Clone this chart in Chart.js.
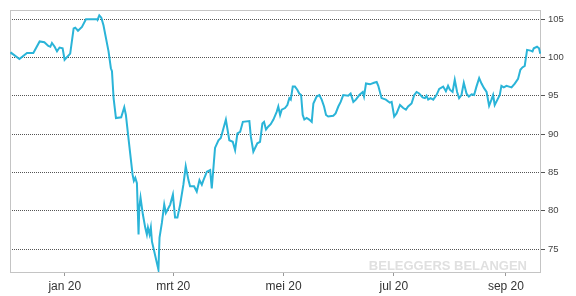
<!DOCTYPE html>
<html>
<head>
<meta charset="utf-8">
<script src="https://cdn.jsdelivr.net/npm/chart.js@4"></script>
<style>
  body { margin: 0; background: #fff; }
  #wrap { width: 576px; height: 296px; }
</style>
</head>
<body>
<div id="wrap"><canvas id="line_chart"></canvas></div>
<script>
// days counted from 1 jan 2020
const days = [
  -30.1, -29.6, -25.1, -20.9, -17.4, -13.9, -11.3, -9.1, -8.0, -7.1, -5.6, -4.3, -2.9, -1.2, -0.1,
  3.0, 4.9, 5.8, 7.3, 9.5, 11.7, 17.8, 18.1, 19.1, 20.2, 21.4, 24.2, 25.5, 26.1, 27.0, 28.3,
  31.2, 32.9, 33.8, 35.2, 37.5, 38.2, 39.0, 39.9, 40.8, 41.2, 41.9, 43.2, 44.5, 45.4, 46.0,
  46.9, 47.6, 48.2, 51.8, 52.4, 53.7, 55.0, 55.9, 58.3, 59.8, 61.0, 62.3, 63.8, 65.6, 66.9,
  68.4, 69.3, 71.5, 73.0, 74.5, 75.8, 76.7, 78.6, 80.4, 81.3, 83.1, 85.0, 86.3, 89.1, 91.0,
  92.9, 94.2, 95.5, 97.0, 98.5, 102.1, 102.9, 104.3, 106.5, 108.0, 109.3, 110.2, 111.3, 112.6,
  113.9, 115.4, 117.2, 118.1, 119.1, 120.0, 121.8, 123.1, 124.2, 125.0, 126.1, 127.3, 128.6,
  129.7, 130.7, 131.6, 132.5, 133.8, 135.2, 136.6, 137.5, 139.3, 140.8, 142.1, 143.4, 144.5,
  145.7, 148.5, 149.8, 151.3, 152.6, 154.0, 156.8, 158.1, 159.6, 161.0, 162.9, 164.8, 165.5,
  166.6, 168.8, 171.0, 172.5, 173.4, 175.2, 177.6, 179.8, 180.8, 182.2, 183.5, 185.4, 187.2,
  188.7, 189.9, 191.8, 193.3, 194.6, 196.0, 197.9, 199.2, 200.1, 201.0, 202.3, 203.8, 205.6,
  207.1, 209.3, 210.8, 212.0, 213.0, 214.5, 215.7, 217.0, 218.1, 219.4, 220.7, 222.2, 223.5,
  225.0, 226.4, 227.7, 229.2, 230.5, 231.9, 233.3, 234.7, 236.0, 236.9, 237.8, 239.1, 240.6,
  241.5, 242.8, 244.3, 245.7, 247.1, 248.9, 250.7, 252.0, 253.1, 254.4, 255.7, 257.6, 258.7,
  259.4, 261.2, 262.3, 263.0
]
const values = [
  100.5, 100.6, 99.8, 100.6, 100.6, 102.1, 102.0, 101.5, 101.4, 101.9, 101.4, 100.8, 101.3, 101.2, 99.7,
  100.5, 103.8, 103.9, 103.5, 104.0, 105.0, 105.0, 104.9, 105.5, 105.2, 104.2, 100.8, 98.6, 98.2, 94.7, 92.1,
  92.2, 93.5, 92.5, 89.5, 84.7, 83.9, 84.3, 83.6, 76.9, 80.4, 81.7, 79.5, 77.8, 76.9, 77.8,
  76.9, 77.8, 76.0, 72.3, 76.5, 78.4, 80.8, 79.7, 80.8, 82.1, 79.1, 79.1, 80.8, 83.4, 85.8,
  84.0, 83.2, 83.2, 82.5, 84.0, 83.4, 84.0, 85.1, 85.3, 82.9, 88.2, 89.2, 89.5, 91.9, 89.2,
  89.0, 87.9, 90.1, 90.3, 91.6, 91.7, 89.7, 87.7, 88.8, 89.0, 91.4, 91.6, 90.6, 91.0,
  91.3, 91.9, 92.9, 93.6, 92.5, 93.2, 93.4, 93.8, 94.7, 94.5, 96.2, 96.2, 95.8,
  95.3, 95.1, 92.5, 91.9, 92.1, 91.9, 91.6, 94.0, 94.9, 95.1, 94.5, 93.6, 92.5,
  92.3, 92.4, 92.7, 93.6, 94.2, 95.1, 95.0, 95.3, 94.2, 94.5, 95.1, 95.5, 94.9,
  96.6, 96.5, 96.7, 96.8, 96.3, 94.7, 94.5, 94.1, 94.2, 92.3, 92.7, 93.8, 93.4,
  93.2, 93.6, 94.0, 95.1, 95.5, 95.3, 94.8, 94.7, 95.0, 94.5, 94.7, 94.5, 95.1,
  95.9, 96.2, 95.6, 96.3, 95.8, 95.5, 97.1, 95.5, 94.7, 95.1, 96.7, 95.3, 94.9,
  95.2, 95.1, 96.2, 97.3, 96.6, 96.0, 95.5, 93.7, 94.5, 95.1, 93.8, 94.4, 95.1,
  96.3, 96.1, 96.3, 96.2, 96.1, 96.6, 97.2, 98.4, 98.7, 98.9, 101.0, 100.9, 100.8,
  101.2, 101.4, 101.2, 100.5
]
const monthDays = [0, 60, 121, 182, 244]
const monthLabels = ['jan 20', 'mrt 20', 'mei 20', 'jul 20', 'sep 20']
const yTicks = [75, 80, 85, 90, 95, 100, 105]

// white background, grey frame round the plot and the watermark
const frame = {
    id: 'frame',
    beforeDraw(chart) {
        const ctx = chart.ctx
        ctx.save()
        ctx.fillStyle = '#fff'
        ctx.fillRect(0, 0, chart.width, chart.height)
        ctx.restore()
    },
    beforeDatasetsDraw(chart) {
        const {ctx, chartArea: a} = chart
        ctx.save()
        ctx.fillStyle = '#e0e0e0'
        ctx.font = 'bold 13px "Liberation Sans", Arial, sans-serif'
        ctx.textAlign = 'right'
        ctx.textBaseline = 'alphabetic'
        ctx.fillText('BELEGGERS BELANGEN', a.right - 14, a.bottom - 2)
        ctx.strokeStyle = '#c4c4c4'
        ctx.lineWidth = 1
        ctx.strokeRect(a.left + 0.5, a.top + 0.5, a.right - a.left - 1, a.bottom - a.top)
        ctx.restore()
    }
}

new Chart(document.querySelector('#line_chart'), {
    type: 'line',
    data: {
        datasets: [{
            data: days.map((d, i) => ({x: d, y: values[i]})),
            borderColor: '#2ab4d8',
            borderWidth: 2,
            pointRadius: 0,
            tension: 0
        }]
    },
    options: {
        responsive: true,
        maintainAspectRatio: false,
        animation: false,
        layout: {padding: {left: 10, top: 10}},
        plugins: {
            legend: false,
            tooltip: {enabled: false}
        },
        scales: {
            x: {
                type: 'linear',
                min: -30.3,
                max: 263.4,
                afterBuildTicks: s => { s.ticks = monthDays.map(v => ({value: v})) },
                afterFit: s => { s.height = 24 },
                ticks: {
                    autoSkip: false,
                    maxRotation: 0,
                    padding: 3,
                    color: '#333',
                    font: {family: '"Liberation Sans", Arial, sans-serif', size: 12},
                    callback: value => monthLabels[monthDays.indexOf(value)]
                },
                grid: {
                    drawOnChartArea: false,
                    drawTicks: true,
                    tickLength: 4,
                    color: '#999'
                },
                border: {display: false}
            },
            y: {
                position: 'right',
                min: 72,
                max: 106.2,
                afterBuildTicks: s => { s.ticks = yTicks.map(v => ({value: v})) },
                afterFit: s => { s.width = 35 },
                ticks: {
                    padding: 3,
                    color: '#444',
                    font: {family: '"Liberation Sans", Arial, sans-serif', size: 9.5}
                },
                grid: {
                    color: '#555',
                    tickLength: 4
                },
                border: {display: false, dash: [1, 1]}
            }
        }
    },
    plugins: [frame]
})
</script>
</body>
</html>
